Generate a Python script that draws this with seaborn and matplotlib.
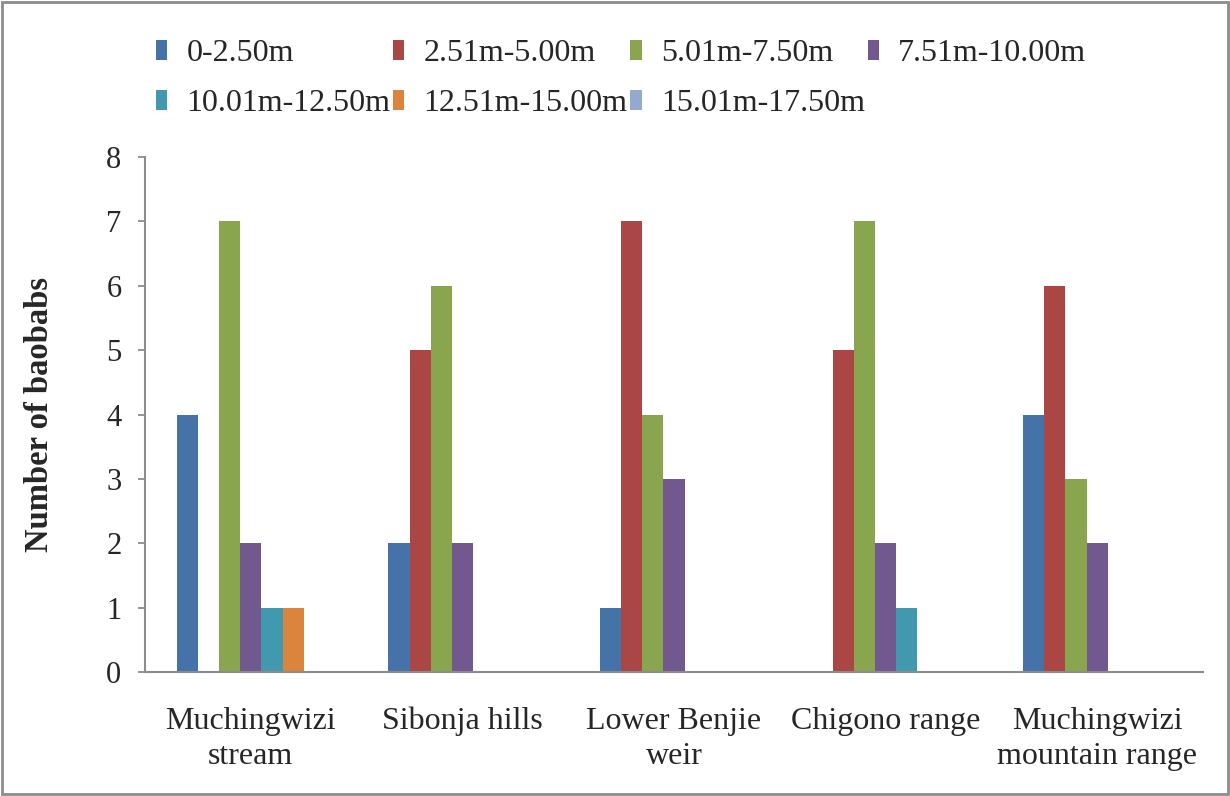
import matplotlib
matplotlib.use("Agg")
import matplotlib.pyplot as plt
import seaborn as sns
import pandas as pd
from matplotlib.patches import Rectangle

sites = ["Muchingwizi\nstream", "Sibonja hills", "Lower Benjie\nweir", "Chigono range",
         "Muchingwizi\nmountain range"]
classes = ["0-2.50m", "2.51m-5.00m", "5.01m-7.50m", "7.51m-10.00m",
           "10.01m-12.50m", "12.51m-15.00m", "15.01m-17.50m"]
c0_250 = [4, 2, 1, 0, 4]
c251_500 = [0, 5, 7, 5, 6]
c501_750 = [7, 6, 4, 7, 3]
c751_1000 = [2, 2, 3, 2, 2]
c1001_1250 = [1, 0, 0, 1, 0]
c1251_1500 = [1, 0, 0, 0, 0]
c1501_1750 = [0, 0, 0, 0, 0]
series = [c0_250, c251_500, c501_750, c751_1000, c1001_1250, c1251_1500, c1501_1750]
colors = ["#4573A7", "#AA4643", "#89A54E", "#71588F", "#4198AF", "#DB843D", "#93A9CF"]

rows = []
for cls, vals in zip(classes, series):
    for s, v in zip(sites, vals):
        rows.append({"site": s, "cls": cls, "n": v})
df = pd.DataFrame(rows)

sns.set_theme(style="white")
plt.rcParams['font.family'] = ['Liberation Serif', 'DejaVu Serif']

fig = plt.figure(figsize=(12.3, 7.96), dpi=100)
ax = fig.add_axes([145/1230, 1-672/796, (1203-145)/1230, (672-157)/796])

sns.barplot(data=df, x="site", y="n", hue="cls", order=sites, hue_order=classes,
            palette=colors, width=0.7, gap=0, linewidth=0, saturation=1, ax=ax)

ax.set_xlim(-0.5, 4.5)
ax.set_ylim(0, 8)
ax.set_yticks(range(0, 9))
ax.set_xlabel("")
ax.set_ylabel("Number of baobabs", fontsize=23.5, fontweight="bold", labelpad=37)
for s in ["top", "right"]:
    ax.spines[s].set_visible(False)
for s in ["left", "bottom"]:
    ax.spines[s].set_color("#8c8c8c")
    ax.spines[s].set_linewidth(1.5)
ax.tick_params(axis="y", which="both", left=True, length=5, width=1.3, color="#8c8c8c",
               direction="out", pad=12, labelsize=22)
ax.tick_params(axis="x", bottom=False, pad=19, labelsize=23)
for t in ax.get_xticklabels():
    t.set_linespacing(1.3)

ax.get_legend().remove()
handles = [Rectangle((0, 0), 1, 1, facecolor=c, edgecolor="none") for c in colors]
order = [0, 4, 1, 5, 2, 6, 3]
fig.legend([handles[i] for i in order], [classes[i] for i in order], loc="upper left",
           bbox_to_anchor=(156/1230, 1-39/796),
           ncol=4, frameon=False, fontsize=23, handlelength=0.35, handleheight=0.6,
           handletextpad=0.6, columnspacing=0.09, labelspacing=0.66, borderpad=0,
           borderaxespad=0)

fig.patches.append(Rectangle((0.002, 0.002), 0.996, 0.996, transform=fig.transFigure,
                             fill=False, edgecolor="#8c8c8c", linewidth=2))

fig.savefig("out.png", dpi=100)
